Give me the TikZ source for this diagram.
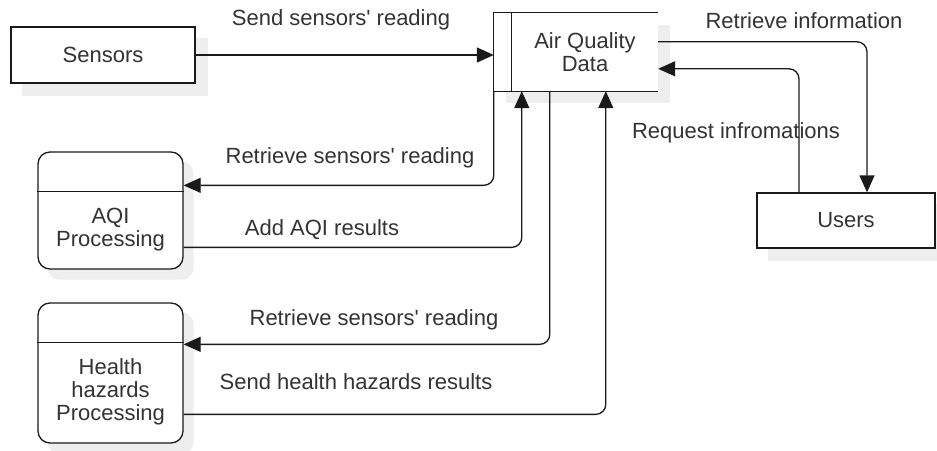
\documentclass[tikz,border=0pt]{standalone}
\usepackage{fontspec}
\setmainfont{Liberation Sans}
\usetikzlibrary{arrows.meta,calc,backgrounds}
\definecolor{txt}{HTML}{333333}
\definecolor{shd}{HTML}{EEEEEE}
\definecolor{ln}{HTML}{1A1A1A}
\newcommand{\apos}{\textquotesingle}
\begin{document}
\begin{tikzpicture}[x=1pt,y=-1pt,
  every node/.style={font=\fontsize{22}{23}\selectfont, text=txt, align=center},
  box/.style={draw=ln, line width=1.3pt, fill=white, inner sep=0pt},
  pbox/.style={box, rounded corners=12pt},
  plain/.style={draw=ln, line width=1.3pt},
  flow/.style={plain, rounded corners=10pt, -{Triangle[length=17pt,width=15pt]}},
  lbl/.style={inner sep=0pt}
]
\useasboundingbox (0,0) rectangle (937,450);

% entities
\node[box, minimum width=184pt, minimum height=56pt] (sensors) at (103,55) {Sensors};
\node[box, minimum width=178pt, minimum height=55pt] (users) at (846,220.5) {Users};

% data store
\node[inner sep=0pt, minimum width=164pt, minimum height=78pt, fill=white] (store) at (576,52) {};
\draw[plain] (store.north east) -- (store.north west) -- (store.south west) -- (store.south east);
\draw[plain] ($(store.north west)+(18,0)$) -- ($(store.south west)+(18,0)$);
\node (storetext) at (585,52) {Air Quality\\Data};

% processes
\node[pbox, minimum width=145pt, minimum height=117pt] (aqi) at (110.5,210.5) {};
\draw[plain] ($(aqi.north west)+(0,40)$) -- ($(aqi.north east)+(0,40)$);
\node (aqitext) at (110.5,230) {AQI\\Processing};

\node[pbox, minimum width=145pt, minimum height=140pt] (health) at (110.5,373) {};
\draw[plain] ($(health.north west)+(0,40)$) -- ($(health.north east)+(0,40)$);
\node (healthtext) at (110.5,392) {Health\\hazards\\Processing};

% shadows
\begin{pgfonlayer}{background}
\fill[shd] ($(sensors.north west)+(12,12)$) rectangle ($(sensors.south east)+(12,12)$);
\fill[shd] ($(users.north west)+(12,12)$) rectangle ($(users.south east)+(12,12)$);
\fill[shd] ($(store.north west)+(12,12)$) rectangle ($(store.south east)+(12,12)$);
\fill[shd, rounded corners=12pt] ($(aqi.north west)+(10,10)$) rectangle ($(aqi.south east)+(10,10)$);
\fill[shd, rounded corners=12pt] ($(health.north west)+(10,10)$) rectangle ($(health.south east)+(10,10)$);
\end{pgfonlayer}

% flows
\draw[flow] (sensors.east) -- (store.west |- sensors.east);
\draw[flow] ($(store.north east)+(0,29)$) -| ($(users.north)+(21,0)$);
\draw[flow] ($(users.north)+(-47,0)$) |- ($(store.north east)+(0,56)$);
\draw[flow] (store.south west) |- ($(aqi.north east)+(0,34)$);
\draw[flow] ($(aqi.north east)+(0,96)$) -| ($(store.south west)+(28,0)$);
\draw[flow] ($(store.south west)+(56,0)$) |- ($(health.north east)+(0,42)$);
\draw[flow] ($(health.north east)+(0,112)$) -| ($(store.south west)+(112,0)$);

% labels
\node[lbl] (l1) at (341,20) {Send sensors\apos{} reading};
\node[lbl] (l2) at (804,21) {Retrieve information};
\node[lbl] (l3) at (736,133) {Request infromations};
\node[lbl] (l4) at (350,158) {Retrieve sensors\apos{} reading};
\node[lbl] (l5) at (322,230) {Add AQI results};
\node[lbl] (l6) at (374,320) {Retrieve sensors\apos{} reading};
\node[lbl] (l7) at (356,382) {Send health hazards results};
\end{tikzpicture}
\end{document}
